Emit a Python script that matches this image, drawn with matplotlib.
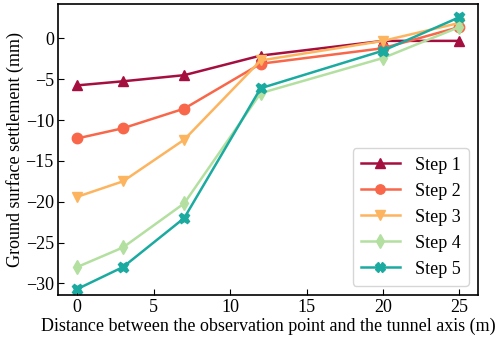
import matplotlib
matplotlib.use("Agg")
import matplotlib.pyplot as plt

# data
distance = [0, 3, 7, 12, 20, 25]
step1 = [-5.75, -5.25, -4.5, -2.1, -0.3, -0.3]
step2 = [-12.25, -11.0, -8.6, -3.1, -1.2, 1.4]
step3 = [-19.4, -17.5, -12.4, -2.7, -0.3, 1.9]
step4 = [-28.0, -25.6, -20.2, -6.7, -2.4, 1.4]
step5 = [-30.7, -28.0, -22.0, -6.1, -1.5, 2.6]
labels = ["Step 1", "Step 2", "Step 3", "Step 4", "Step 5"]

colors = ["#a50f3f", "#f8674a", "#fdb45e", "#b3e0a0", "#1aaaa0"]
markers = ["^", "o", "v", "d", "X"]

plt.rcParams["font.family"] = ["Liberation Serif", "DejaVu Serif"]
plt.rcParams["font.size"] = 13

fig = plt.figure(figsize=(4.98, 3.44), dpi=100)
ax = fig.add_axes([0.1165, 0.143, 0.843, 0.845])

for ys, lab, c, m in zip([step1, step2, step3, step4, step5], labels, colors, markers):
    ax.plot(distance, ys, color=c, marker=m, markersize=7.5, linewidth=1.8, label=lab)

ax.set_xlim(-1.25, 26.2)
ax.set_ylim(-31.4, 4.2)
ax.set_xticks([0, 5, 10, 15, 20, 25])
ax.set_yticks([-30, -25, -20, -15, -10, -5, 0])
ax.tick_params(direction="in", length=4, labelsize=13, pad=3)
for s in ax.spines.values():
    s.set_linewidth(1.2)

ax.set_xlabel("Distance between the observation point and the tunnel axis (m)", fontsize=13, labelpad=1)
ax.set_ylabel("Ground surface settlement (mm)", fontsize=13, labelpad=1)

ax.legend(loc="lower right", fontsize=13, handlelength=2.2, borderpad=0.45,
          labelspacing=0.5, markerscale=0.9)

fig.savefig("out.png", dpi=100)
